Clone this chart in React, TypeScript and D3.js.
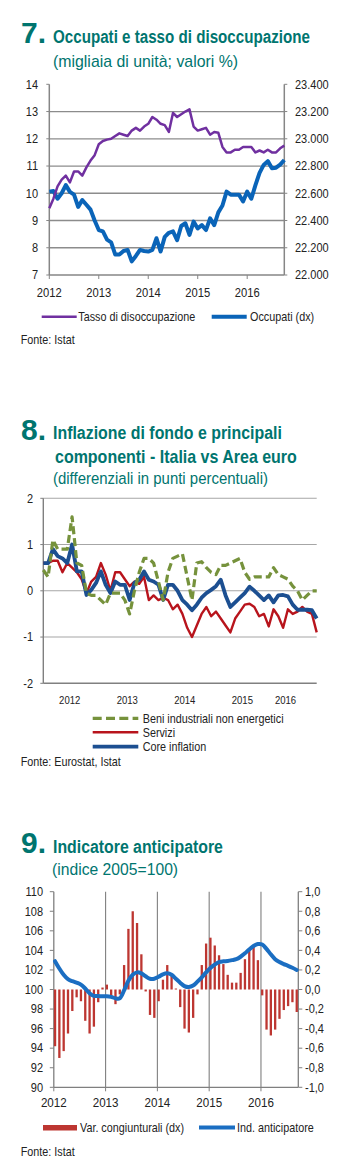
import { useLayoutEffect, useRef, useState } from 'react';
import * as d3 from 'd3';

const FONT = "'Liberation Sans', Arial, sans-serif";
const TEAL = '#00756f';
const AXIS = '#868686';
const INK = '#222';

const years = ['2012', '2013', '2014', '2015', '2016'];
const yearStartMonths = [0, 12, 24, 36, 48];

// 7. Occupati e tasso di disoccupazione (gen 2012 - ott 2016)
const unemploymentRate = [
  9.45, 9.8, 10.25, 10.5, 10.65, 10.4, 10.8, 10.8, 10.65, 10.95,
  11.2, 11.4, 11.8, 11.92, 11.97, 12.0, 12.1, 12.2, 12.15, 12.1,
  12.3, 12.4, 12.3, 12.45, 12.55, 12.8, 12.7, 12.55, 12.5, 12.25,
  12.95, 12.8, 12.9, 13.0, 13.08, 12.45, 12.3, 12.35, 12.4, 12.15,
  12.25, 12.22, 11.7, 11.5, 11.5, 11.6, 11.6, 11.7, 11.7, 11.7,
  11.5, 11.57, 11.5, 11.6, 11.5, 11.5, 11.65, 11.75,
];
const employed = [
  22612, 22616, 22560, 22600, 22660, 22610, 22590, 22500, 22550, 22516,
  22480, 22400, 22330, 22320, 22260, 22240, 22150, 22150, 22176, 22184,
  22100, 22140, 22184, 22176, 22172, 22184, 22270, 22172, 22280, 22310,
  22320, 22256, 22360, 22380, 22294, 22392, 22342, 22366, 22330, 22416,
  22366, 22460, 22510, 22612, 22590, 22590, 22590, 22540, 22612, 22560,
  22660, 22750, 22808, 22836, 22784, 22788, 22810, 22844,
];
const rateTicks = [7, 8, 9, 10, 11, 12, 13, 14];
const employedTicks = [22000, 22200, 22400, 22600, 22800, 23000, 23200, 23400];

// 8. Inflazione di fondo: differenziali Italia - Area euro
const beniIndustriali = [
  0.45, 0.3, 1.1, 0.9, 0.9, 0.9, 1.6, 0.6, 0.55, -0.05,
  -0.1, -0.1, -0.2, -0.3, -0.05, -0.05, -0.05, -0.2, -0.5, 0.0,
  0.4, 0.7, 0.7, 0.6, 0.2, -0.2, 0.4, 0.7, 0.75, 0.8,
  0.3, -0.2, 0.6, 0.63, 0.5, 0.4, 0.35, 0.55, 0.55, 0.6,
  0.65, 0.7, 0.4, 0.25, 0.3, 0.3, 0.3, 0.3, 0.5, 0.35,
  0.3, 0.25, 0.1, 0.0, -0.2, -0.1, 0.0, 0.0,
];
const servizi = [
  0.6, 0.6, 0.65, 0.65, 0.4, 0.6, 0.5, 0.4, 0.25, -0.05,
  0.2, 0.3, 0.6, 0.35, 0.0, 0.4, 0.4, 0.25, 0.1, 0.2,
  0.15, 0.3, -0.2, -0.1, -0.2, -0.15, -0.2, -0.4, -0.3, -0.5,
  -0.8, -1.0, -0.75, -0.5, -0.35, -0.55, -0.45, -0.6, -0.75, -0.9,
  -0.6, -0.45, -0.3, -0.28, -0.35, -0.55, -0.5, -0.77, -0.4, -0.55,
  -0.8, -0.4, -0.5, -0.45, -0.35, -0.45, -0.5, -0.9,
];
const coreInflation = [
  0.6, 0.6, 0.9, 0.75, 0.7, 0.6, 1.0, 0.42, 0.42, -0.09,
  0.02, 0.17, 0.42, 0.13, -0.05, 0.2, 0.13, 0.13, -0.2, 0.17,
  0.24, 0.42, 0.24, 0.2, 0.13, -0.2, 0.13, 0.13, 0.0, -0.2,
  -0.3, -0.42, -0.3, -0.15, -0.05, 0.02, 0.1, 0.24, -0.1, -0.35,
  -0.25, -0.15, -0.05, 0.09, 0.0, -0.1, -0.2, -0.1, -0.25, -0.1,
  -0.09, -0.12, -0.3, -0.41, -0.41, -0.41, -0.42, -0.6,
];
const diffTicks = [-2, -1, 0, 1, 2];
const yearLabelMonths8 = [5.5, 17.5, 29.5, 41.5, 50.5];

// 9. Indicatore anticipatore (gen 2012 - set 2016)
const varCongiunturali = [
  -0.58, -0.7, -0.63, -0.45, -0.22, -0.08, -0.12, -0.32, -0.45, -0.38,
  -0.13, 0.02, 0.05, -0.07, -0.15, -0.05, 0.25, 0.62, 0.8, 0.68,
  0.36, -0.02, -0.26, -0.29, -0.12, 0.1, 0.25, 0.15, 0.01, -0.18,
  -0.4, -0.44, -0.29, -0.05, 0.25, 0.47, 0.53, 0.45, 0.35, 0.26,
  0.15, 0.07, 0.07, 0.17, 0.31, 0.41, 0.44, 0.3, -0.06, -0.41,
  -0.47, -0.41, -0.3, -0.21, -0.17, -0.13, -0.23,
];
const indAnticipatore = [
  102.9, 102.15, 101.5, 101.05, 100.85, 100.7, 100.5, 100.1, 99.62, 99.35,
  99.33, 99.3, 99.32, 99.25, 99.1, 99.1, 99.9, 100.9, 101.5, 101.75,
  101.65, 101.35, 101.1, 101.1, 101.3, 101.55, 101.65, 101.5, 101.1, 100.7,
  100.35, 100.25, 100.4, 100.8, 101.25, 101.75, 102.2, 102.55, 102.8, 102.88,
  102.92, 103.0, 103.1, 103.35, 103.7, 104.1, 104.45, 104.65, 104.6, 104.15,
  103.6, 103.1, 102.8, 102.6, 102.42, 102.22, 102.0,
];
const indexTicks = [90, 92, 94, 96, 98, 100, 102, 104, 106, 108, 110];
const varTicks = [-1, -0.8, -0.6, -0.4, -0.2, 0, 0.2, 0.4, 0.6, 0.8, 1];

const itLocale = d3.formatLocale({ decimal: ',', thousands: '.', grouping: [3], currency: ['', '€'] });
const fmtThousands = itLocale.format(',');
const fmtOneDec = (v: number) => itLocale.format('.1f')(v).replace('−', '-');

// narrow-looking text: no Arial Narrow here, so squeeze horizontally
interface TxtProps {
  x: number; y: number; size: number; children: string | number;
  len?: number; sx?: number; anchor?: 'start' | 'middle' | 'end';
  bold?: boolean; fill?: string;
}
function Txt({ x, y, size, children, len, sx = 0.83, anchor = 'start', bold = false, fill = INK }: TxtProps) {
  const ref = useRef<SVGTextElement>(null);
  const [scale, setScale] = useState(sx);
  useLayoutEffect(() => {
    if (len && ref.current) {
      const w = ref.current.getComputedTextLength();
      if (w > 0) setScale(len / w);
    }
  }, [len, children]);
  return (
    <text ref={ref} transform={`translate(${x},${y}) scale(${scale},1)`} fontSize={size}
      fontWeight={bold ? 'bold' : 'normal'} textAnchor={anchor} fill={fill}>{String(children)}</text>
  );
}

type HeadLine = { text: string; x: number; y: number; size: number; bold?: boolean; len: number };

function Heading({ num, y, lines }: { num: string; y: number; lines: HeadLine[] }) {
  return (
    <g>
      <Txt x={21} y={y} size={29} bold len={25} fill={TEAL}>{num}</Txt>
      {lines.map(l => (
        <Txt key={l.text} x={l.x} y={l.y} size={l.size} bold={l.bold} len={l.len} fill={TEAL}>{l.text}</Txt>
      ))}
    </g>
  );
}

function Chart7() {
  const x = d3.scaleLinear().domain([0, unemploymentRate.length - 1]).range([49.3, 284.3]);
  const yL = d3.scaleLinear().domain([7, 14]).range([275, 84.3]);
  const yR = d3.scaleLinear().domain([22000, 23400]).range([275, 84.3]);
  const rateLine = d3.line<number>().x((_, i) => x(i)).y(d => yL(d));
  const empLine = d3.line<number>().x((_, i) => x(i)).y(d => yR(d));
  const [x0, x1] = x.range();

  return (
    <g>
      <Heading num="7." y={43} lines={[
        { text: 'Occupati e tasso di disoccupazione', x: 53, y: 43, size: 18.5, bold: true, len: 257 },
        { text: '(migliaia di unità; valori %)', x: 53, y: 66.5, size: 17, len: 185 },
      ]} />

      {rateTicks.slice(1, -1).map(t => (
        <line key={t} x1={x0} x2={x1} y1={yL(t)} y2={yL(t)} stroke="#8c8c8c" strokeWidth={1.3} />
      ))}
      <line x1={x0} x2={x0} y1={yL(14)} y2={yL(7)} stroke={AXIS} strokeWidth={1.5} />
      <line x1={x1} x2={x1} y1={yL(14)} y2={yL(7)} stroke={AXIS} strokeWidth={1.5} />
      <line x1={x0} x2={x1} y1={yL(7)} y2={yL(7)} stroke={AXIS} strokeWidth={1.5} />
      {rateTicks.map(t => (
        <g key={t}>
          <line x1={x0 - 3} x2={x0} y1={yL(t)} y2={yL(t)} stroke={AXIS} />
          <Txt x={38} y={yL(t) + 4.3} size={12.5} sx={0.88} anchor="end">{t}</Txt>
        </g>
      ))}
      {employedTicks.map(t => (
        <g key={t}>
          <line x1={x1} x2={x1 + 3} y1={yR(t)} y2={yR(t)} stroke={AXIS} />
          <Txt x={295} y={yR(t) + 4.3} size={12.5} sx={0.88}>{fmtThousands(t)}</Txt>
        </g>
      ))}
      {yearStartMonths.map((m, i) => (
        <g key={m}>
          <line x1={x(m)} x2={x(m)} y1={yL(7)} y2={yL(7) + 4} stroke={AXIS} />
          <Txt x={x(m)} y={296.5} size={13.5} anchor="middle">{years[i]}</Txt>
        </g>
      ))}

      <path d={empLine(employed) ?? ''} fill="none" stroke="#0a64b8" strokeWidth={4} strokeLinejoin="round" />
      <path d={rateLine(unemploymentRate) ?? ''} fill="none" stroke="#7030a0" strokeWidth={2.5} strokeLinejoin="round" />

      <line x1={41.7} x2={76.7} y1={316.7} y2={316.7} stroke="#7030a0" strokeWidth={2.5} />
      <Txt x={78.3} y={320.7} size={13}>Tasso di disoccupazione</Txt>
      <line x1={211.7} x2={246.7} y1={316.7} y2={316.7} stroke="#0a64b8" strokeWidth={4} />
      <Txt x={250} y={320.7} size={13}>Occupati (dx)</Txt>
      <Txt x={20.7} y={344.3} size={13}>Fonte: Istat</Txt>
    </g>
  );
}

function Chart8() {
  const x = d3.scaleLinear().domain([0, coreInflation.length - 1]).range([43.3, 316.7]);
  const y = d3.scaleLinear().domain([-2, 2]).range([683.3, 498.3]);
  const line = d3.line<number>().x((_, i) => x(i)).y(d => y(d));
  const [x0, x1] = x.range();
  const GREEN = '#76923c';
  const RED = '#b8141c';
  const NAVY = '#1c4f91';

  return (
    <g>
      <Heading num="8." y={440} lines={[
        { text: 'Inflazione di fondo e principali', x: 53, y: 439.3, size: 18.5, bold: true, len: 229 },
        { text: 'componenti - Italia vs Area euro', x: 55, y: 463, size: 18.5, bold: true, len: 242 },
        { text: '(differenziali in punti percentuali)', x: 53, y: 483.5, size: 17, len: 215 },
      ]} />

      {diffTicks.map(t => (
        <g key={t}>
          <line x1={x0} x2={x1} y1={y(t)} y2={y(t)} stroke={t === -2 ? '#808080' : '#a6a6a6'} strokeWidth={t === -2 ? 1.4 : 1.1} />
          <line x1={x0 - 3} x2={x0} y1={y(t)} y2={y(t)} stroke="#808080" />
          <Txt x={33} y={y(t) + 4.3} size={12.5} sx={0.88} anchor="end">{String(t)}</Txt>
        </g>
      ))}
      <line x1={x0} x2={x0} y1={y(2)} y2={y(-2)} stroke="#808080" strokeWidth={1.4} />
      {yearLabelMonths8.map((m, i) => (
        <Txt key={m} x={x(m)} y={704} size={11.5} anchor="middle">{years[i]}</Txt>
      ))}

      <path d={line(servizi) ?? ''} fill="none" stroke={RED} strokeWidth={2.4} strokeLinejoin="round" />
      <path d={line(coreInflation) ?? ''} fill="none" stroke={NAVY} strokeWidth={3.8} strokeLinejoin="round" />
      <path d={line(beniIndustriali) ?? ''} fill="none" stroke={GREEN} strokeWidth={3.2} strokeDasharray="8,4" strokeLinejoin="round" />

      <line x1={92.7} x2={138.3} y1={718.3} y2={718.3} stroke={GREEN} strokeWidth={3.2} strokeDasharray="9,4.3" />
      <Txt x={142.7} y={722.5} size={13}>Beni industriali non energetici</Txt>
      <line x1={92.7} x2={138.3} y1={732.3} y2={732.3} stroke={RED} strokeWidth={2.4} />
      <Txt x={142.7} y={736.7} size={13}>Servizi</Txt>
      <line x1={92.7} x2={138.3} y1={746.7} y2={746.7} stroke={NAVY} strokeWidth={3.8} />
      <Txt x={142.7} y={751} size={13}>Core inflation</Txt>
      <Txt x={20.7} y={766} size={13}>Fonte: Eurostat, Istat</Txt>
    </g>
  );
}

function Chart9() {
  const x = d3.scaleLinear().domain([0, 56.65]).range([53.8, 298.3]);
  const yL = d3.scaleLinear().domain([90, 110]).range([1087.3, 891.7]);
  const yR = d3.scaleLinear().domain([-1, 1]).range([1087.3, 891.7]);
  const line = d3.line<number>().x((_, i) => x(i) + 1.2).y(d => yL(d)).curve(d3.curveCatmullRom.alpha(0.5));
  const [x0, x1] = x.range();
  const BAR = '#bd3631';
  const BLUE = '#1b6ec2';

  return (
    <g>
      <Heading num="9." y={853.3} lines={[
        { text: 'Indicatore anticipatore', x: 53, y: 853.3, size: 18.5, bold: true, len: 170 },
        { text: '(indice 2005=100)', x: 52, y: 875, size: 17, len: 126 },
      ]} />

      {yearStartMonths.slice(1).map(m => (
        <line key={m} x1={x(m)} x2={x(m)} y1={yL(110)} y2={yL(90)} stroke="#7f7f7f" strokeWidth={1.1} />
      ))}
      <line x1={x0} x2={x0} y1={yL(110)} y2={yL(90)} stroke="#7f7f7f" strokeWidth={1.3} />
      <line x1={x1} x2={x1} y1={yL(110)} y2={yL(90)} stroke="#7f7f7f" strokeWidth={1.3} />
      <line x1={x0} x2={x1} y1={yL(90)} y2={yL(90)} stroke="#7f7f7f" strokeWidth={1.3} />
      {indexTicks.map(t => (
        <g key={t}>
          <line x1={x0 - 4} x2={x0} y1={yL(t)} y2={yL(t)} stroke="#7f7f7f" />
          <Txt x={43} y={yL(t) + 4.3} size={12.5} sx={0.88} anchor="end">{t}</Txt>
        </g>
      ))}
      {varTicks.map(t => (
        <g key={t}>
          <line x1={x1} x2={x1 + 4} y1={yR(t)} y2={yR(t)} stroke="#7f7f7f" />
          <Txt x={305} y={yR(t) + 4.3} size={12.5} sx={0.88}>{fmtOneDec(t)}</Txt>
        </g>
      ))}
      {yearStartMonths.map((m, i) => (
        <g key={m}>
          <line x1={x(m)} x2={x(m)} y1={yL(90)} y2={yL(90) + 4} stroke="#7f7f7f" />
          <Txt x={x(m)} y={1107} size={13.5} sx={0.86} anchor="middle">{years[i]}</Txt>
        </g>
      ))}

      {varCongiunturali.map((v, i) => (
        <rect key={i} x={x(i) + 0.1} width={2.3} y={Math.min(yR(v), yR(0))} height={Math.abs(yR(v) - yR(0))} fill={BAR} />
      ))}
      <path d={line(indAnticipatore) ?? ''} fill="none" stroke={BLUE} strokeWidth={4} strokeLinejoin="round" strokeLinecap="round" />

      <rect x={43} y={1125} width={34} height={5.5} fill={BAR} />
      <Txt x={80} y={1131.7} size={13}>Var. congiunturali (dx)</Txt>
      <line x1={199} x2={235} y1={1127.5} y2={1127.5} stroke={BLUE} strokeWidth={4} />
      <Txt x={237} y={1131.7} size={13}>Ind. anticipatore</Txt>
      <Txt x={20.7} y={1156} size={13}>Fonte: Istat</Txt>
    </g>
  );
}

export default function App() {
  return (
    <svg width={350} height={1168} viewBox="0 0 350 1168" fontFamily={FONT}
      style={{ position: 'absolute', left: 0, top: 0, display: 'block' }}>
      <rect width={350} height={1168} fill="#fff" />
      <Chart7 />
      <Chart8 />
      <Chart9 />
    </svg>
  );
}
